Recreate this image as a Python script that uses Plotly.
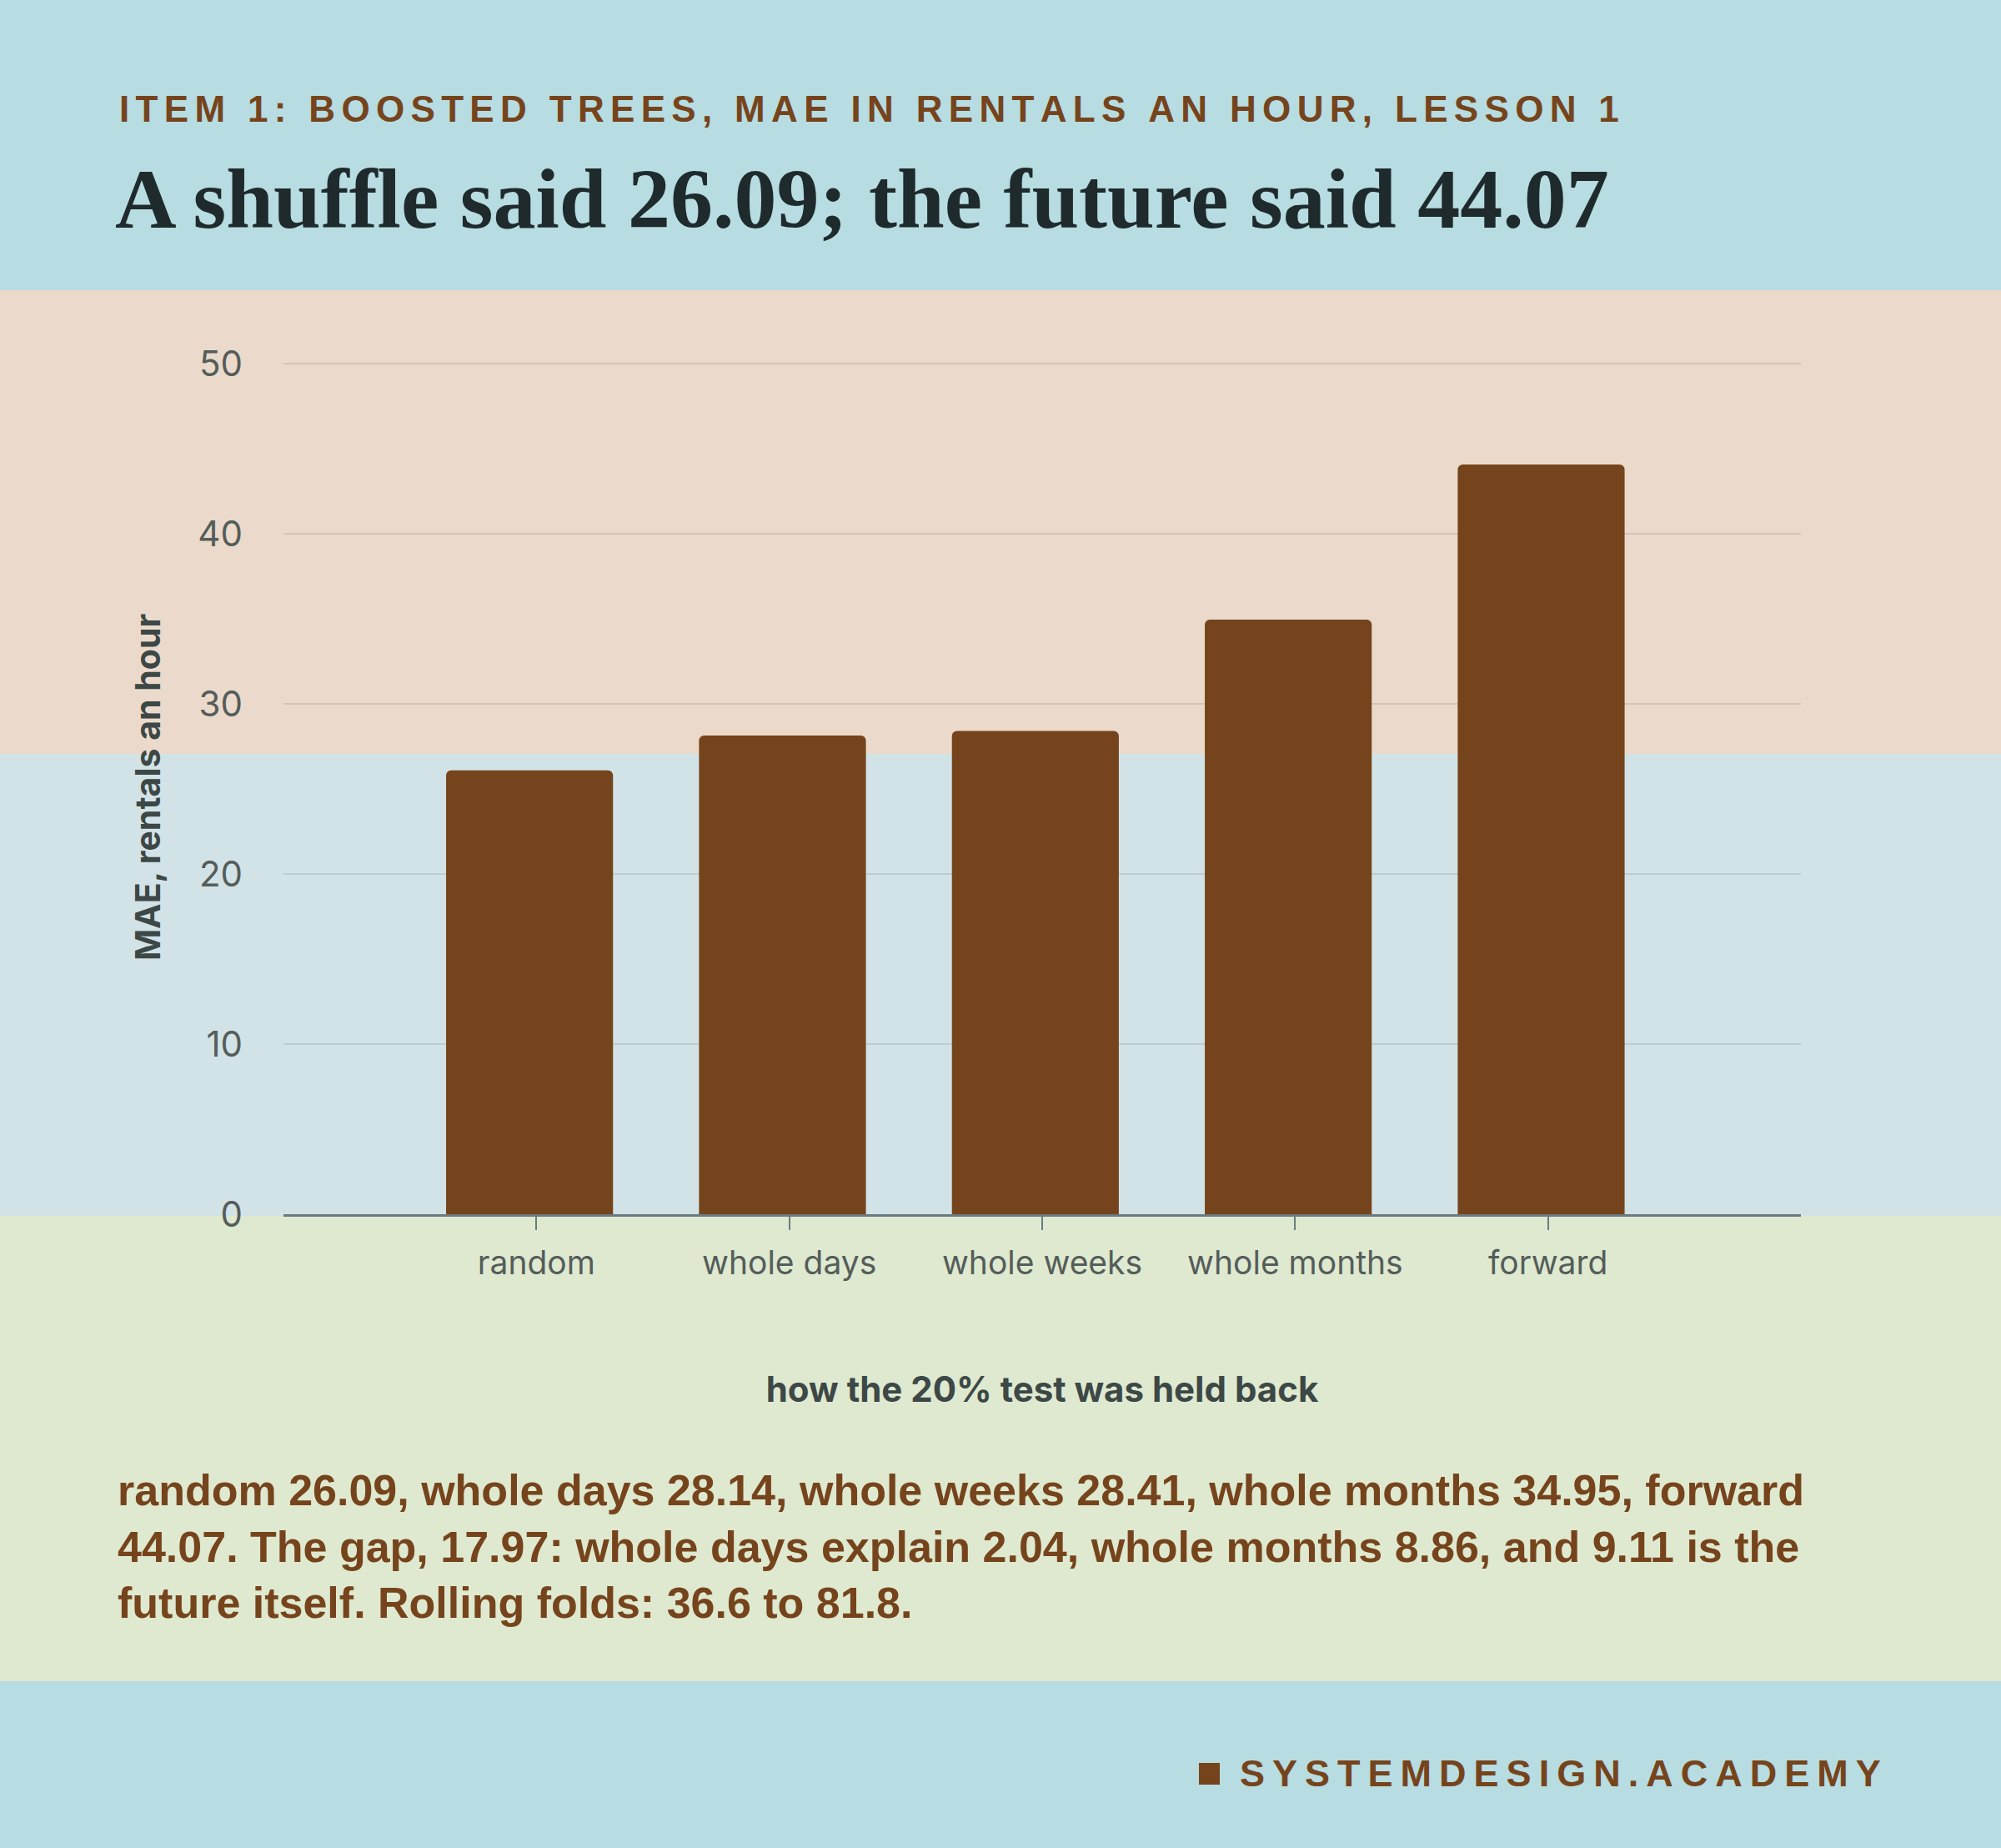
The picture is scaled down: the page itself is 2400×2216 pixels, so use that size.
import plotly.graph_objects as go

# values
splits = ["random", "whole days", "whole weeks", "whole months", "forward"]
mae = [26.09, 28.14, 28.41, 34.95, 44.07]
y_ticks = [0, 10, 20, 30, 40, 50]

kicker = "ITEM 1: BOOSTED TREES, MAE IN RENTALS AN HOUR, LESSON 1"
headline = "A shuffle said 26.09; the future said 44.07"
note_lines = [
    "random 26.09, whole days 28.14, whole weeks 28.41, whole months 34.95, forward",
    "44.07. The gap, 17.97: whole days explain 2.04, whole months 8.86, and 9.11 is the",
    "future itself. Rolling folds: 36.6 to 81.8.",
]
brand = "SYSTEMDESIGN.ACADEMY"

W, H = 2400, 2216
L, R, T, B = 340, 2160, 432, 1456  # plot area in pixels

BROWN = "#75441c"
SKY = "#b7dce1"


def px_x(p):
    return (p - L) / (R - L)


def px_y(p):
    return (B - p) / (B - T)


def spaced(s, gap):
    # no letter-spacing in plotly, so pad with narrow spaces
    return gap.join(s)


fig = go.Figure()
fig.add_trace(go.Bar(
    x=splits, y=mae, width=0.66, offset=-0.357,
    marker=dict(color=BROWN, cornerradius=6, line=dict(width=0)),
    hoverinfo="skip",
))

# background bands
bands = [(348, 904, "#ebdacb"), (904, 1458, "#d2e3e7"), (1458, 2016, "#dee9d0")]
shapes = []
for top, bot, col in bands:
    shapes.append(dict(type="rect", xref="paper", yref="paper",
                       x0=px_x(-10), x1=px_x(W + 10), y0=px_y(bot), y1=px_y(top),
                       fillcolor=col, line=dict(width=0), layer="below"))
# brand square
shapes.append(dict(type="rect", xref="paper", yref="paper",
                   x0=px_x(1438), x1=px_x(1463), y0=px_y(2140), y1=px_y(2114),
                   fillcolor=BROWN, line=dict(width=0), layer="above"))

annotations = [
    dict(text=spaced(kicker, "\u2006"), x=px_x(141), y=px_y(130), xref="paper", yref="paper",
         xanchor="left", yanchor="middle", showarrow=False,
         font=dict(family="Liberation Sans", size=44, color="#76441c", weight="bold")),
    dict(text=headline, x=px_x(136), y=px_y(238), xref="paper", yref="paper",
         xanchor="left", yanchor="middle", showarrow=False,
         font=dict(family="Liberation Serif", size=102, color="#1f2a2c", weight="bold")),
    dict(text="<br>".join(note_lines), x=px_x(139), y=px_y(1854), xref="paper", yref="paper",
         xanchor="left", yanchor="middle", align="left", showarrow=False,
         font=dict(family="Liberation Sans", size=52, color="#76441c", weight="bold")),
    dict(text=spaced(brand, "\u2009"), x=px_x(1485), y=px_y(2126), xref="paper", yref="paper",
         xanchor="left", yanchor="middle", showarrow=False,
         font=dict(family="Liberation Sans", size=45, color="#76441c", weight="bold")),
]

fig.update_layout(
    width=W, height=H,
    margin=dict(l=L, r=W - R, t=T, b=H - B, pad=0),
    paper_bgcolor=SKY, plot_bgcolor="rgba(0,0,0,0)",
    showlegend=False, bargap=0.34,
    shapes=shapes, annotations=annotations,
    font=dict(family="Inter"),
)
fig.update_xaxes(
    type="category", range=[-1, 5],
    showline=True, linecolor="#6b7b80", linewidth=3,
    ticks="outside", ticklen=16, tickwidth=2, tickcolor="#6b7b80",
    ticklabelstandoff=6,
    tickfont=dict(family="Inter", size=39, color="#555d5a"),
    showgrid=False,
    title=dict(text="how the 20% test was held back", standoff=116,
               font=dict(family="Inter", size=42, color="#3d4846", weight="bold")),
)
fig.update_yaxes(
    range=[0, 50.2], tickvals=y_ticks,
    showline=False, zeroline=False,
    showgrid=True, gridcolor="rgba(100,100,100,0.18)", gridwidth=2,
    ticks="", ticklabelstandoff=48,
    tickfont=dict(family="Inter", size=42, color="#555d5a"),
    title=dict(text="MAE, rentals an hour", standoff=32,
               font=dict(family="Inter", size=41, color="#3d4846", weight="bold")),
)

fig.write_html("out.html", config={"displayModeBar": False},
               post_script="document.body.style.margin='0';")
